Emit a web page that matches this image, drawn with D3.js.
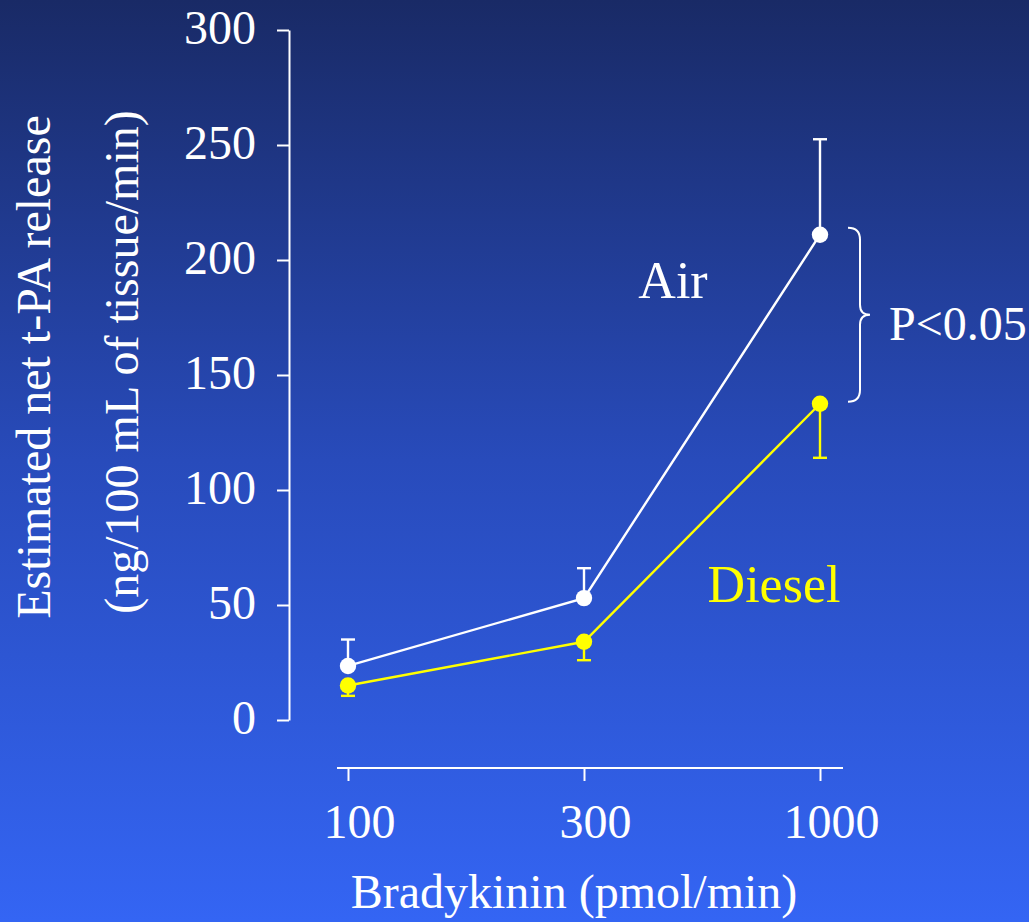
<!DOCTYPE html>
<html><head><meta charset="utf-8">
<script src="https://cdn.jsdelivr.net/npm/d3@7"></script>
<style>html,body{margin:0;padding:0;overflow:hidden;background:#2a4fc8}</style>
</head><body>
<svg id="c" width="1029" height="922"></svg>
<script>
const doses = ["100", "300", "1000"];
const yTicks = [0, 50, 100, 150, 200, 250, 300];
const airMean = [23.5, 53, 211];
const airSem = [11.5, 13, 41.5];
const dieselMean = [15, 34, 137.5];
const dieselSem = [4.5, 8, 23.5];
const seriesNames = ["Air", "Diesel"];

const svg = d3.select("#c");
const defs = svg.append("defs");
const grad = defs.append("linearGradient").attr("id","bg").attr("x1",0).attr("y1",0).attr("x2",0).attr("y2",1);
grad.append("stop").attr("offset","0%").attr("stop-color","#192a66");
grad.append("stop").attr("offset","50%").attr("stop-color","#284bbb");
grad.append("stop").attr("offset","100%").attr("stop-color","#3465f4");
svg.append("rect").attr("width",1029).attr("height",922).attr("fill","url(#bg)");

const font = "'Liberation Serif','Times New Roman',serif";
const fs = "48px";
const y = d3.scaleLinear().domain([0,300]).range([720,30]);
const x = d3.scalePoint().domain(doses).range([348,820]);

// Y axis
const yAxis = svg.append("g").attr("transform","translate(289,0)")
  .call(d3.axisLeft(y).tickValues(yTicks).tickSize(12).tickSizeOuter(0).tickPadding(21));
yAxis.select(".domain").attr("stroke","#fff").attr("stroke-width",2);
yAxis.selectAll(".tick line").attr("stroke","#fff").attr("stroke-width",2);
yAxis.selectAll(".tick text").attr("fill","#fff").attr("dy","0.29em").style("font-family",font).style("font-size",fs);

// X axis
const xAxis = svg.append("g").attr("transform","translate(0,768)")
  .call(d3.axisBottom(x).tickSize(13).tickSizeOuter(0).tickPadding(23));
xAxis.select(".domain").attr("d","M337,0H843").attr("stroke","#fff").attr("stroke-width",2);
xAxis.selectAll(".tick line").attr("stroke","#fff").attr("stroke-width",2);
xAxis.selectAll(".tick text").attr("fill","#fff").attr("dx",11).style("font-family",font).style("font-size",fs);

// Titles
svg.append("text").attr("x",574).attr("y",908).attr("text-anchor","middle")
  .attr("fill","#fff").style("font-family",font).style("font-size",fs).text("Bradykinin (pmol/min)");
svg.append("text").attr("transform","translate(50,367) rotate(-90)").attr("text-anchor","middle")
  .attr("fill","#fff").style("font-family",font).style("font-size",fs).text("Estimated net t-PA release");
svg.append("text").attr("transform","translate(138,362) rotate(-90)").attr("text-anchor","middle")
  .attr("fill","#fff").style("font-family",font).style("font-size",fs).text("(ng/100 mL of tissue/min)");

function drawSeries(mean, sem, color, dir) {
  const g = svg.append("g");
  const line = d3.line().x((d,i)=>x(doses[i])).y(d=>y(d));
  g.append("path").attr("d", line(mean)).attr("fill","none").attr("stroke",color).attr("stroke-width",2.4);
  mean.forEach((m,i)=>{
    const cx = x(doses[i]);
    const e = m + dir*sem[i];
    g.append("line").attr("x1",cx).attr("x2",cx).attr("y1",y(m)).attr("y2",y(e)).attr("stroke",color).attr("stroke-width",2.4);
    g.append("line").attr("x1",cx-7).attr("x2",cx+7).attr("y1",y(e)).attr("y2",y(e)).attr("stroke",color).attr("stroke-width",2.4);
    g.append("circle").attr("cx",cx).attr("cy",y(m)).attr("r",8.2).attr("fill",color);
  });
}
drawSeries(dieselMean, dieselSem, "#ffff00", -1);
drawSeries(airMean, airSem, "#ffffff", 1);

// Series labels
svg.append("text").attr("x",673).attr("y",298).attr("text-anchor","middle").attr("fill","#fff")
  .style("font-family",font).style("font-size","52px").text(seriesNames[0]);
svg.append("text").attr("x",774).attr("y",602).attr("text-anchor","middle").attr("fill","#ffff00")
  .style("font-family",font).style("font-size","52px").text(seriesNames[1]);

// Brace
const bTop = y(airMean[2]) - 7, bBot = y(dieselMean[2]) - 2;
const bMid = (bTop + bBot) / 2;
const bx = 848, bw = 12, tip = 870;
const bp = d3.path();
bp.moveTo(bx, bTop);
bp.quadraticCurveTo(bx+bw, bTop, bx+bw, bTop+12);
bp.lineTo(bx+bw, bMid-10);
bp.quadraticCurveTo(bx+bw, bMid, tip, bMid);
bp.quadraticCurveTo(bx+bw, bMid, bx+bw, bMid+10);
bp.lineTo(bx+bw, bBot-12);
bp.quadraticCurveTo(bx+bw, bBot, bx, bBot);
svg.append("path").attr("d", bp.toString()).attr("fill","none").attr("stroke","#fff").attr("stroke-width",2);
svg.append("text").attr("x",889).attr("y",340).attr("fill","#fff")
  .style("font-family",font).style("font-size",fs).text("P<0.05");
</script>
</body></html>
